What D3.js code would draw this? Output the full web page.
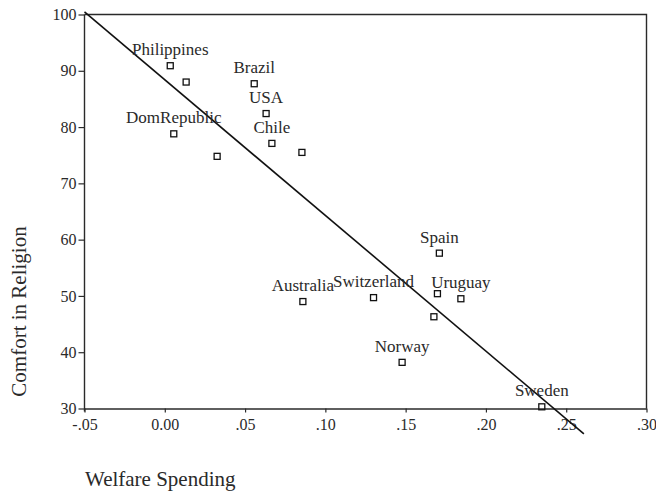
<!DOCTYPE html>
<html>
<head>
<meta charset="utf-8">
<script src="https://cdn.jsdelivr.net/npm/d3@7/dist/d3.min.js"></script>
<style>
  html, body { margin: 0; padding: 0; background: #fff; }
  svg { display: block; }
  text { font-family: "Liberation Serif", "Times New Roman", serif; fill: #2a2a2a; }
</style>
</head>
<body>
<svg id="chart" width="656" height="492"></svg>
<script>
// Country labels (blank = unlabeled point)
const countries = ["Philippines", "", "Brazil", "USA", "DomRepublic", "Chile", "", "",
                   "Spain", "Australia", "Switzerland", "", "Uruguay", "", "Norway", "Sweden"];
// Welfare spending (x)
const welfare = [0.0034, 0.0133, 0.0557, 0.0631, 0.0056, 0.0667, 0.0326, 0.0854,
                 0.171, 0.086, 0.130, 0.1698, 0.1844, 0.1676, 0.1478, 0.2348];
// Comfort in religion (y)
const comfort = [90.9, 88.0, 87.7, 82.4, 78.8, 77.1, 74.8, 75.5,
                 57.6, 49.0, 49.7, 50.4, 49.5, 46.3, 38.2, 30.3];

// Axis ticks
const xTickValues = [-0.05, 0, 0.05, 0.10, 0.15, 0.20, 0.25, 0.30];
const xTickLabels = ["-.05", "0.00", ".05", ".10", ".15", ".20", ".25", ".30"];
const yTickValues = [30, 40, 50, 60, 70, 80, 90, 100];

// Fitted line: comfort = intercept + slope * welfare
const fitIntercept = 88.4;
const fitSlope = -241;
const fitRange = [-0.05, 0.261];

const svg = d3.select("#chart");
const pLeft = 84.5, pRight = 646.5, pTop = 14.5, pBottom = 408.5;

const x = d3.scaleLinear().domain([-0.05, 0.30]).range([pLeft, pRight]);
const y = d3.scaleLinear().domain([30, 100]).range([pBottom, pTop]);

const ink = "#2a2a2a";

// Frame (top and right edges)
svg.append("path")
  .attr("d", `M${pLeft},${pTop}H${pRight}V${pBottom}`)
  .attr("fill", "none").attr("stroke", ink).attr("stroke-width", 1.4);

// Y axis
const yAxis = svg.append("g")
  .attr("transform", `translate(${pLeft},0)`)
  .call(d3.axisLeft(y).tickValues(yTickValues).tickSize(6).tickSizeOuter(0).tickPadding(2));
yAxis.select(".domain").attr("stroke", ink).attr("stroke-width", 1.4)
  .attr("d", `M0,${pTop}V${pBottom + 3}`);
yAxis.selectAll(".tick line").attr("stroke", ink).attr("stroke-width", 1.2);
yAxis.selectAll(".tick text").attr("font-size", 16).attr("fill", ink)
  .attr("font-family", "Liberation Serif");

// X axis
const xAxis = svg.append("g")
  .attr("transform", `translate(0,${pBottom})`)
  .call(d3.axisBottom(x).tickValues(xTickValues)
    .tickFormat((d, i) => xTickLabels[i]).tickSize(4).tickSizeOuter(0).tickPadding(6));
xAxis.select(".domain").attr("stroke", ink).attr("stroke-width", 1.4);
xAxis.selectAll(".tick line").attr("stroke", ink).attr("stroke-width", 1.2);
xAxis.selectAll(".tick text").attr("font-size", 16).attr("fill", ink)
  .attr("font-family", "Liberation Serif");

// Fitted line
const line = d3.line().x(d => x(d)).y(d => y(fitIntercept + fitSlope * d));
svg.append("path")
  .datum(fitRange)
  .attr("d", line)
  .attr("fill", "none").attr("stroke", "#111").attr("stroke-width", 1.6);

// Points
const pts = countries.map((c, i) => ({ name: c, wx: welfare[i], cy: comfort[i] }));
const ms = 6;
svg.append("g").selectAll("rect")
  .data(pts).join("rect")
  .attr("x", d => x(d.wx) - ms / 2)
  .attr("y", d => y(d.cy) - ms / 2)
  .attr("width", ms).attr("height", ms)
  .attr("fill", "none").attr("stroke", "#111").attr("stroke-width", 1.3);

// Point labels
svg.append("g").selectAll("text")
  .data(pts.filter(d => d.name))
  .join("text")
  .attr("x", d => x(d.wx))
  .attr("y", d => y(d.cy) - 10.5)
  .attr("text-anchor", "middle")
  .attr("font-size", 17)
  .text(d => d.name);

// Axis titles
svg.append("text")
  .attr("transform", `translate(25.5,${(pTop + pBottom) / 2 + 100}) rotate(-90)`)
  .attr("text-anchor", "middle")
  .attr("font-size", 21)
  .text("Comfort in Religion");

svg.append("text")
  .attr("x", 85).attr("y", 486)
  .attr("font-size", 21)
  .text("Welfare Spending");
</script>
</body>
</html>
